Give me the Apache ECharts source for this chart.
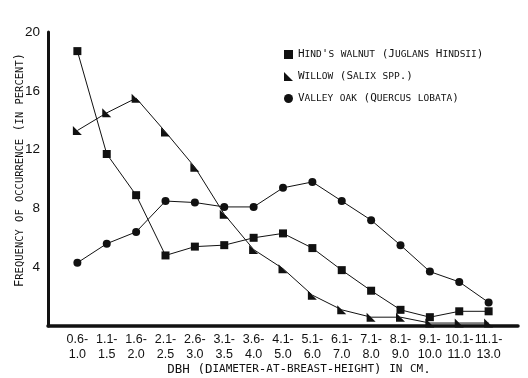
<!DOCTYPE html>
<html>
<head>
    <meta charset="utf-8">
    <title>DBH frequency</title>
    <script src="https://cdn.jsdelivr.net/npm/echarts@6/dist/echarts.min.js"></script>
</head>
<body style="margin:0">
    <div id="main" style="width: 528px; height:378px;"></div>

    <script type="text/javascript">
        // DBH classes (cm)
        var classes = ['0.6-1.0', '1.1-1.5', '1.6-2.0', '2.1-2.5', '2.6-3.0', '3.1-3.5', '3.6-4.0',
            '4.1-5.0', '5.1-6.0', '6.1-7.0', '7.1-8.0', '8.1-9.0', '9.1-10.0', '10.1-11.0', '11.1-13.0'];

        // frequency of occurrence, percent
        var walnut = [18.7, 11.7, 8.9, 4.8, 5.4, 5.5, 6.0, 6.3, 5.3, 3.8, 2.4, 1.1, 0.6, 1.0, 1.0];
        var willow = [13.3, 14.5, 15.5, 13.2, 10.8, 7.6, 5.2, 3.9, 2.1, 1.1, 0.6, 0.6, 0.2, 0.2, 0.2];
        var oak    = [4.3, 5.6, 6.4, 8.5, 8.4, 8.1, 8.1, 9.4, 9.8, 8.5, 7.2, 5.5, 3.7, 3.0, 1.6];

        var yTicks = [4, 8, 12, 16, 20];

        var names = ["Hind's walnut (Juglans Hindsii)", 'Willow (Salix spp.)', 'Valley oak (Quercus lobata)'];

        var FONT = 'DejaVu Sans Mono';
        var NUMFONT = 'Liberation Sans';
        var TRI = 'path://M0,0L10,10L0,10Z';

        // fake small caps with rich text
        function smallCaps(str) {
            var out = '', cur = null, buf = '';
            for (var i = 0; i < str.length; i++) {
                var ch = str[i];
                var t = (ch >= 'a' && ch <= 'z') ? 's' : 'c';
                if (t !== cur && buf) { out += '{' + cur + '|' + buf + '}'; buf = ''; }
                cur = t;
                buf += ch.toUpperCase();
            }
            if (buf) out += '{' + cur + '|' + buf + '}';
            return out;
        }

        function capsRich(big, small) {
            return {
                c: { fontFamily: FONT, fontSize: big, color: '#111' },
                s: { fontFamily: FONT, fontSize: small, color: '#111' }
            };
        }

        function pairs(arr) {
            return arr.map(function (v, i) { return [i, v]; });
        }

        var myChart = echarts.init(document.getElementById('main'));

        var option = {
            animation: false,
            backgroundColor: '#fff',
            textStyle: { fontFamily: FONT, color: '#111' },
            grid: { left: 48, right: 10, top: 32, bottom: 52, outerBoundsMode: 'none' },
            legend: {
                orient: 'vertical',
                left: 279,
                top: 44,
                itemGap: 11,
                itemWidth: 9,
                itemHeight: 9,
                data: [
                    { name: names[0], icon: 'rect' },
                    { name: names[1], icon: TRI },
                    { name: names[2], icon: 'circle' }
                ],
                formatter: function (n) { return smallCaps(n); },
                textStyle: {
                    fontFamily: FONT,
                    color: '#111',
                    rich: capsRich(11, 9.5)
                }
            },
            xAxis: {
                type: 'value',
                min: -1,
                max: 15,
                interval: 1,
                splitLine: { show: false },
                axisTick: { show: false },
                axisLine: { onZero: false, lineStyle: { color: '#111', width: 3.5 } },
                axisLabel: {
                    margin: 6,
                    fontFamily: NUMFONT,
                    fontSize: 12.5,
                    color: '#111',
                    lineHeight: 15,
                    formatter: function (v) {
                        var c = classes[v];
                        if (!c) return '';
                        var k = c.indexOf('-');
                        return c.slice(0, k + 1) + '\n' + c.slice(k + 1);
                    }
                },
                name: smallCaps('DBH (Diameter-at-breast-height) in cm.'),
                nameLocation: 'middle',
                nameMoveOverlap: false,
                nameGap: 37,
                nameTextStyle: {
                    padding: [0, 0, 0, 32],
                    rich: capsRich(12.5, 11)
                }
            },
            yAxis: {
                type: 'value',
                min: 0,
                max: 20,
                interval: 4,
                splitLine: { show: false },
                axisTick: { show: false },
                axisLine: { onZero: false, lineStyle: { color: '#111', width: 3 } },
                axisLabel: {
                    margin: 8,
                    fontFamily: NUMFONT,
                    fontSize: 13.5,
                    color: '#111',
                    formatter: function (v) {
                        return yTicks.indexOf(v) >= 0 ? String(v) : '';
                    }
                },
                name: smallCaps('Frequency of occurrence (in percent)'),
                nameLocation: 'middle',
                nameMoveOverlap: false,
                nameGap: 22,
                nameTextStyle: {
                    padding: [0, 0, 0, 18],
                    rich: capsRich(12, 10.5)
                }
            },
            series: [
                {
                    name: names[0],
                    type: 'line',
                    data: pairs(walnut),
                    symbol: 'rect',
                    symbolSize: 8,
                    lineStyle: { color: '#111', width: 1 },
                    itemStyle: { color: '#111' }
                },
                {
                    name: names[1],
                    type: 'line',
                    data: pairs(willow),
                    symbol: TRI,
                    symbolSize: 9,
                    lineStyle: { color: '#111', width: 1 },
                    itemStyle: { color: '#111' }
                },
                {
                    name: names[2],
                    type: 'line',
                    data: pairs(oak),
                    symbol: 'circle',
                    symbolSize: 8,
                    lineStyle: { color: '#111', width: 1 },
                    itemStyle: { color: '#111' }
                }
            ]
        };

        myChart.setOption(option);
    </script>
</body>
</html>
